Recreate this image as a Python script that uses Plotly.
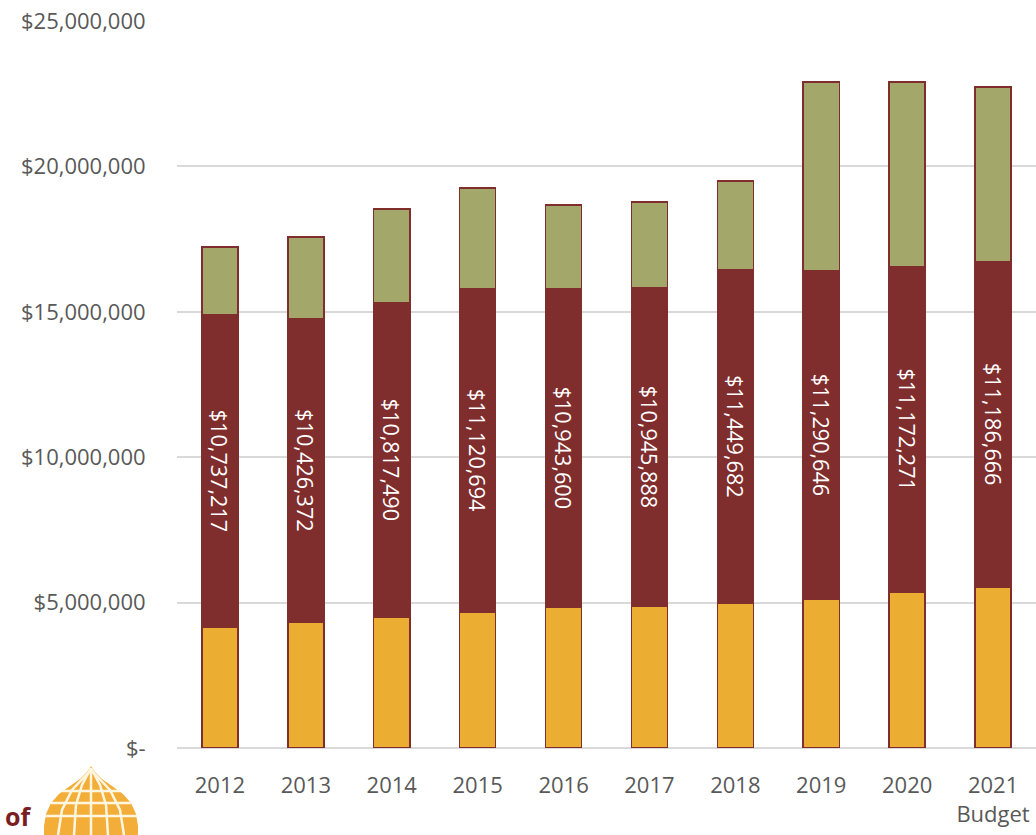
import plotly.graph_objects as go

years = ["2012", "2013", "2014", "2015", "2016", "2017", "2018", "2019", "2020", "2021<br>Budget"]
base_funds = [4160000, 4330000, 4500000, 4680000, 4850000, 4880000, 4990000, 5120000, 5360000, 5540000]
core_funds = [10737217, 10426372, 10817490, 11120694, 10943600, 10945888, 11449682, 11290646, 11172271, 11186666]
other_funds = [2330000, 2810000, 3210000, 3460000, 2880000, 2950000, 3060000, 6490000, 6370000, 6000000]

tick_vals = [0, 5000000, 10000000, 15000000, 20000000, 25000000]
tick_text = ["$-", "$5,000,000", "$10,000,000", "$15,000,000", "$20,000,000", "$25,000,000"]

YELLOW = "#EBAE32"
MAROON = "#7F2D2D"
OLIVE = "#A3A86A"
FONT = "Open Sans"

outline = dict(color=MAROON, width=1.5)

fig = go.Figure()
fig.add_bar(x=years, y=base_funds, marker=dict(color=YELLOW, line=outline), hoverinfo="y")
fig.add_bar(
    x=years, y=core_funds, marker=dict(color=MAROON, line=outline),
    text=[f"${v:,}" for v in core_funds], textposition="inside",
    insidetextanchor="middle", textangle=90,
    textfont=dict(family=FONT, size=23, color="white"), hoverinfo="y",
)
fig.add_bar(x=years, y=other_funds, marker=dict(color=OLIVE, line=outline), hoverinfo="y")

# plot-area geometry in pixels, used to place the emblem below the axis
L, R, T, B = 177, 0, 21, 87
W, H = 1036, 835
pw, ph = W - L - R, H - T - B


def px(x):
    return (x - L) / pw


def py(y):
    return (H - B - y) / ph


def path(points, close=True):
    s = "M " + " L ".join(f"{px(x):.5f},{py(y):.5f}" for x, y in points)
    return s + (" Z" if close else "")


# onion-dome globe emblem
dome = [(91, 766), (95, 772), (102, 779), (112, 786), (123, 794), (131, 803),
        (136, 814), (138, 826), (138, 835),
        (44, 835), (44, 826), (46, 814), (51, 803), (59, 794), (70, 786),
        (80, 779), (87, 772)]
shapes = [dict(type="path", xref="paper", yref="paper", path=path(dome),
               fillcolor="#F3AE3A", line=dict(width=0), layer="above")]
white = dict(color="#FFF6E0", width=2.5)
for y0, x0, x1 in [(791, 62, 120), (803, 51, 131), (816, 45, 137)]:
    shapes.append(dict(type="line", xref="paper", yref="paper",
                       x0=px(x0), x1=px(x1), y0=py(y0), y1=py(y0), line=white))
for mer in [
    [(91, 768), (91, 835)],
    [(91, 768), (82, 785), (76, 805), (74, 835)],
    [(91, 768), (100, 785), (106, 805), (108, 835)],
    [(91, 770), (72, 790), (62, 810), (58, 835)],
    [(91, 770), (110, 790), (120, 810), (124, 835)],
]:
    shapes.append(dict(type="path", xref="paper", yref="paper",
                       path=path(mer, close=False), line=white))

fig.update_layout(
    barmode="stack",
    bargap=0.58,
    width=W, height=H,
    margin=dict(l=L, r=R, t=T, b=B, pad=0),
    paper_bgcolor="white", plot_bgcolor="white",
    showlegend=False,
    font=dict(family=FONT, size=22, color="#595959"),
    shapes=shapes,
    annotations=[dict(text="<b>of</b>", xref="paper", yref="paper",
                      x=px(3), y=py(816), xanchor="left", yanchor="middle",
                      showarrow=False, font=dict(family=FONT, size=25, color="#7A1E22"))],
    xaxis=dict(showgrid=False, showline=False, ticks="outside", ticklen=18,
               tickcolor="rgba(0,0,0,0)", tickfont=dict(size=22, color="#595959")),
    yaxis=dict(range=[0, 25000000], tickvals=tick_vals, ticktext=tick_text,
               showgrid=True, gridcolor="#D9D9D9", gridwidth=1.5,
               zeroline=True, zerolinecolor="#D9D9D9", zerolinewidth=1.5,
               ticks="outside", ticklen=26, tickcolor="rgba(0,0,0,0)",
               tickfont=dict(size=22, color="#595959")),
)

fig.write_html("out.html")
